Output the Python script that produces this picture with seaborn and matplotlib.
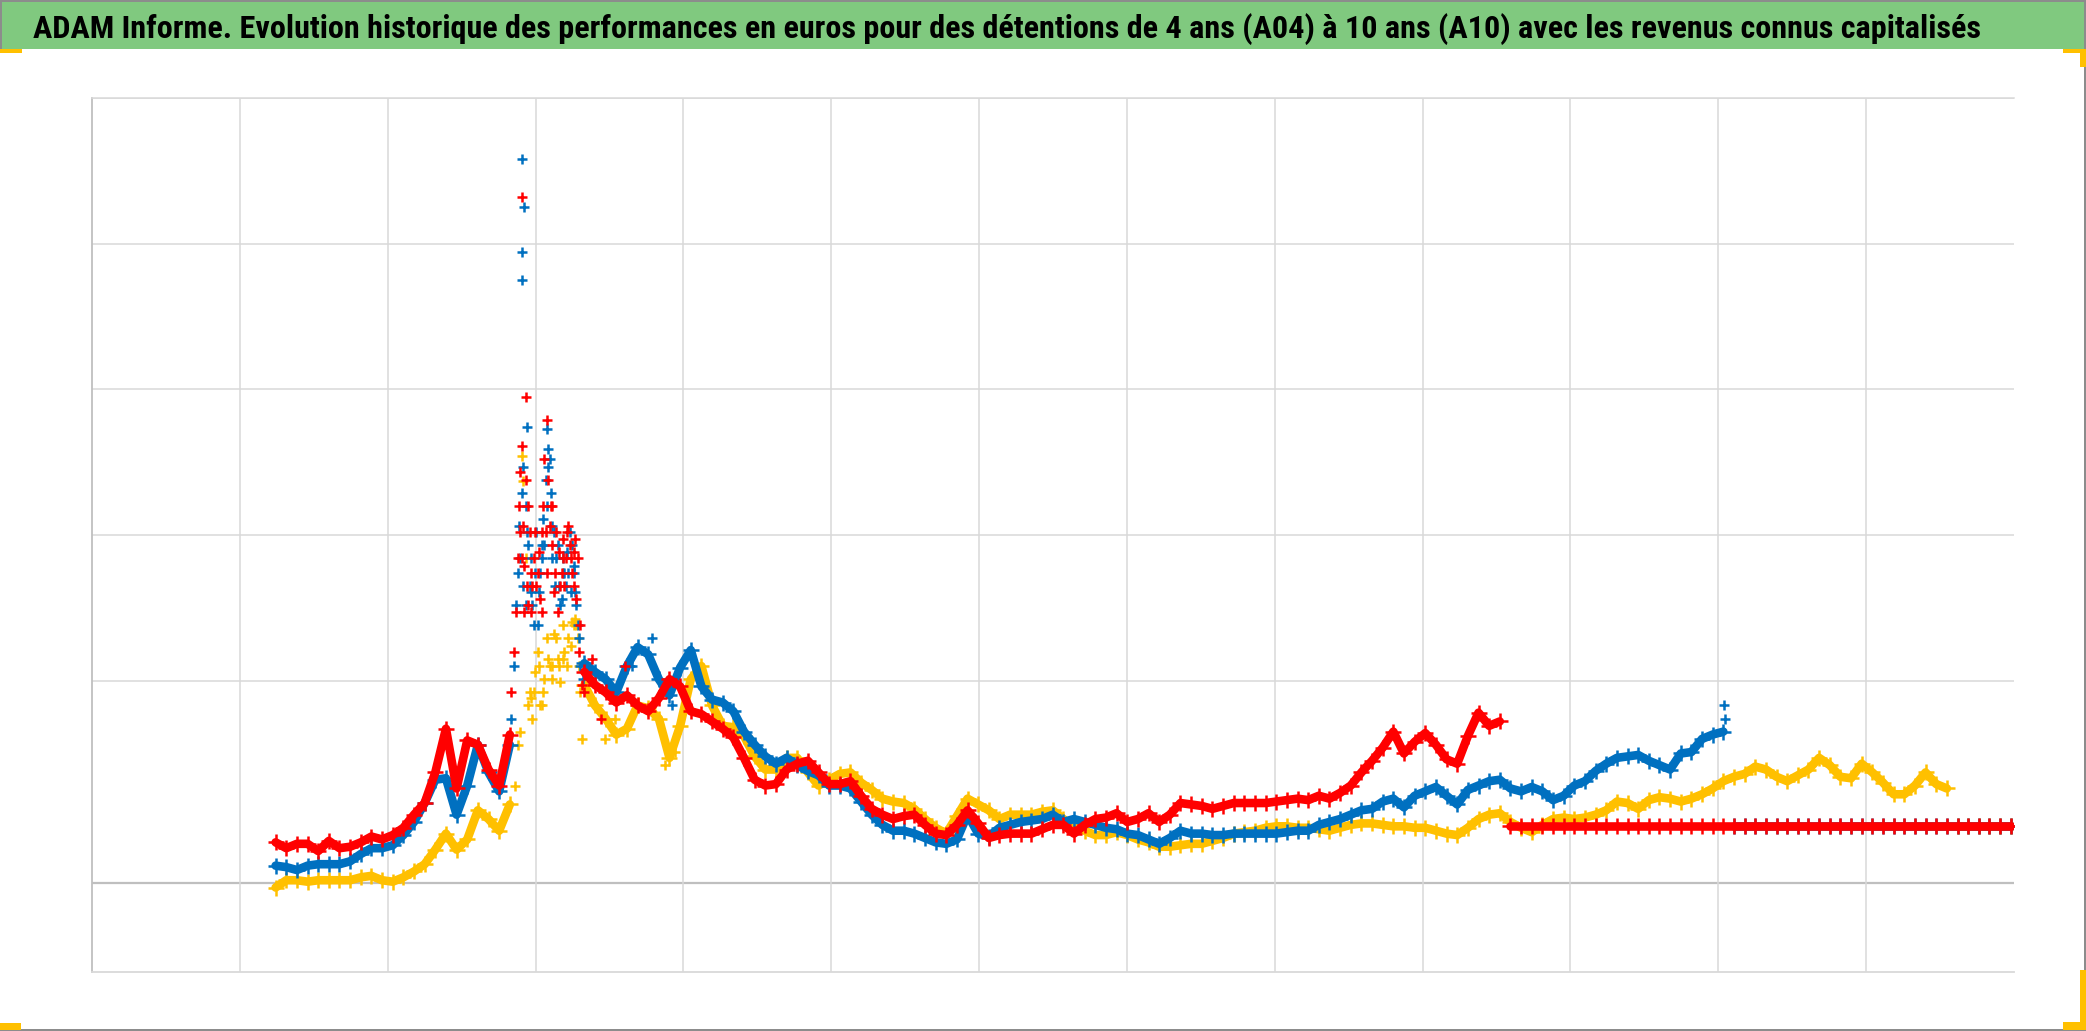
import numpy as np
import pandas as pd
import matplotlib
matplotlib.use("Agg")
import matplotlib.pyplot as plt
import seaborn as sns
from matplotlib import font_manager
from matplotlib.patches import Rectangle

TITLE = ("ADAM Informe. Evolution historique des performances en euros pour des "
         "détentions de 4 ans (A04) à 10 ans (A10) avec les revenus connus capitalisés")

# ---- data (x in grid periods, y in %) ----
X_START = 1.242
X_STEP = 0.072
N_PERIODS = 164
BUBBLE = (23, 29)   # periods of the 2000 bubble, shown as scattered points

a10_red = [-11, -15, -12, -12, -17, -10, -15, -14, -11, -7,
           -9, -6, -1, 8, 16, 37, 67, 26, 59, 56,
           39, 28, 63, 202, 174, 202, 220, 184, 188, 106,
           97, 92, 85, 90, 83, 79, 88, 101, 96, 79,
           77, 72, 67, 61, 47, 32, 28, 29, 39, 43,
           45, 37, 29, 29, 31, 21, 12, 8, 5, 7,
           8, 1, -5, -6, 1, 11, 2, -8, -6, -5,
           -5, -5, -2, 1, 1, -5, 1, 5, 6, 9,
           3, 5, 9, 3, 8, 16, 15, 14, 12, 14,
           16, 16, 16, 16, 17, 18, 19, 18, 21, 19,
           23, 28, 37, 45, 54, 65, 50, 58, 64, 56,
           46, 43, 62, 78, 69, 72]

a07_blue = [-27, -28, -30, -27, -26, -26, -26, -24, -19, -15,
            -15, -13, -6, 3, 16, 32, 33, 8, 28, 56,
            37, 24, 56, 184, 161, 193, 206, 174, 179, 112,
            106, 101, 92, 110, 123, 118, 101, 90, 109, 121,
            96, 87, 85, 79, 65, 56, 48, 43, 47, 42,
            38, 35, 28, 28, 26, 17, 8, 1, -3, -3,
            -5, -8, -11, -12, -9, 8, -5, -7, -1, 1,
            3, 4, 5, 8, 3, 5, 3, 1, -1, -2,
            -5, -6, -9, -12, -8, -3, -5, -5, -6, -6,
            -5, -5, -5, -5, -5, -4, -3, -3, 1, 3,
            5, 8, 11, 12, 17, 19, 13, 21, 24, 27,
            21, 15, 25, 28, 31, 32, 26, 24, 27, 24,
            18, 21, 28, 31, 38, 43, 47, 48, 49, 45,
            42, 39, 50, 51, 60, 63, 65]

a04_yellow = [-42, -37, -37, -38, -37, -37, -37, -37, -35, -34,
              -37, -38, -35, -31, -26, -16, -5, -16, -9, 11,
              5, -3, 15, 65, 88, 83, 110, 115, 138, 97,
              83, 74, 63, 67, 83, 81, 74, 47, 69, 101,
              110, 83, 69, 68, 62, 48, 39, 39, 47, 47,
              37, 28, 32, 36, 37, 30, 25, 19, 17, 16,
              12, 5, -1, -5, 7, 19, 15, 11, 5, 8,
              8, 8, 10, 11, 5, 0, -3, -6, -6, -4,
              -6, -9, -11, -14, -14, -13, -12, -12, -10, -8,
              -5, -4, -3, -1, 0, 0, -1, -1, -2, -3,
              -1, 1, 2, 2, 1, 0, 0, -1, -1, -3,
              -5, -6, -1, 5, 8, 9, 3, -1, -4, 1,
              5, 6, 5, 6, 8, 11, 17, 16, 12, 18,
              20, 19, 17, 19, 22, 26, 31, 34, 36, 41,
              39, 34, 31, 35, 39, 47, 42, 34, 33, 43,
              37, 30, 22, 22, 28, 37, 29, 26]

# scattered daily points around the 2000 bubble (x, y)
red_cloud_x = [2.906, 2.933, 2.906, 3.077, 2.852, 2.870, 2.879, 2.888, 2.897, 2.915,
               2.924, 2.942, 2.960, 2.969, 2.987, 3.005, 3.023, 3.032, 3.050, 3.059,
               3.086, 3.095, 3.113, 3.131, 3.149, 3.167, 3.185, 3.203, 3.221, 3.230,
               3.248, 3.266, 3.275, 3.293, 3.311, 3.329, 2.834,
               2.933, 2.951, 2.978, 2.996, 3.014, 3.041, 3.068, 3.077, 3.104, 3.122,
               3.140, 3.158, 3.176, 3.194, 3.212, 3.239, 3.257, 3.284, 3.302, 2.906,
               2.924, 2.951, 3.383, 3.446, 3.608]
red_cloud_y = [432, 295, 261, 279, 120, 147, 184, 220, 243, 206,
               179, 165, 202, 147, 184, 165, 188, 156, 220, 252,
               238, 206, 193, 174, 147, 165, 197, 184, 206, 193,
               174, 197, 156, 120, 97, 92, 92,
               238, 220, 165, 202, 174, 147, 202, 174, 220, 161,
               202, 188, 174, 165, 202, 184, 165, 184, 138, 184,
               147, 152, 115, 74, 110]

blue_cloud_x = [2.906, 2.924, 2.906, 2.906, 2.942, 3.086, 3.077, 2.870, 2.879, 2.888,
                2.906, 2.915, 2.933, 2.951, 2.960, 2.978, 2.996, 3.014, 3.023, 3.041,
                3.050, 3.068, 3.095, 3.104, 3.122, 3.140, 3.158, 3.176, 3.194, 3.212,
                3.230, 3.239, 3.257, 3.275, 3.284, 3.302, 3.320, 2.852, 2.834, 2.816,
                11.039, 11.048,
                2.942, 2.969, 2.987, 3.005, 3.032, 3.059, 3.077, 3.086, 3.113, 3.131,
                3.149, 3.167, 3.185, 3.203, 3.221, 3.248, 3.266, 3.293, 2.915, 2.933,
                3.653, 3.788, 3.923]
blue_cloud_y = [458, 425, 394, 375, 274, 259, 273, 152, 174, 206,
                229, 247, 220, 193, 165, 152, 174, 138, 161, 184,
                211, 238, 252, 229, 202, 184, 165, 156, 174, 188,
                202, 161, 174, 152, 138, 110, 101, 110, 74, 56,
                83, 74,
                202, 184, 138, 202, 174, 193, 220, 247, 184, 165,
                193, 152, 184, 165, 174, 193, 161, 129, 165, 152,
                110, 129, 83]

yellow_cloud_x = [2.906, 2.915, 2.933, 2.960, 2.978, 2.996, 3.014, 3.032, 3.059, 3.077,
                  3.095, 3.122, 3.149, 3.167, 3.194, 3.221, 3.248, 3.266, 3.284, 3.302,
                  3.311, 2.879, 2.861,
                  2.951, 2.987, 3.023, 3.050, 3.086, 3.113, 3.140, 3.158, 3.185, 3.212,
                  3.239, 3.275, 3.293, 3.878, 3.941, 3.473, 3.536]
yellow_cloud_y = [254, 237, 184, 92, 74, 106, 120, 83, 101, 129,
                  110, 132, 115, 99, 120, 129, 140, 142, 129, 92,
                  60, 56, 28,
                  83, 92, 110, 92, 115, 101, 129, 110, 138, 110,
                  124, 138, 110, 42, 51, 60, 74]

COLORS = {"A10": "#FF0000", "A07": "#0070C0", "A04": "#FFC000"}

W, H = 2086, 1031
sns.set_style("white")
fig = plt.figure(figsize=(W / 100, H / 100), dpi=100)
fig.patch.set_facecolor("white")

# axes placement
L, R, T, B = 92, 2014, 98, 972
ax = fig.add_axes([L / W, 1 - B / H, (R - L) / W, (B - T) / H])
ax.set_xlim(0, 13)
ax.set_ylim(-100, 500)
ax.set_xticks(range(1, 13))
ax.set_yticks([100, 200, 300, 400, 500])
ax.set_xticklabels([])
ax.set_yticklabels([])
ax.tick_params(length=0)
ax.grid(True, color="#D9D9D9", lw=1.1)
ax.set_axisbelow(True)
ax.spines["right"].set_visible(False)
ax.spines["top"].set_color("#D9D9D9"); ax.spines["top"].set_linewidth(1.1)
ax.spines["bottom"].set_color("#D9D9D9"); ax.spines["bottom"].set_linewidth(1.3)
ax.spines["left"].set_color("#BFBFBF"); ax.spines["left"].set_linewidth(1.3)
ax.axhline(-39, color="#BFBFBF", lw=1.6, zorder=0.5)

MS, MEW, LW = 12, 1.8, 6.2
MS_CLOUD = 7.5

def line_seg(xs, ys, color, z):
    df = pd.DataFrame({"x": xs, "y": ys})
    sns.lineplot(data=df, x="x", y="y", color=color, lw=LW, marker="+",
                 markersize=MS, markeredgewidth=MEW, markeredgecolor=color,
                 estimator=None, sort=False, ax=ax, zorder=z)

def draw_cloud(xs, ys, color):
    sns.scatterplot(x=xs, y=ys, color=color, marker="+", s=MS_CLOUD ** 2,
                    linewidth=MEW, ax=ax, zorder=3)

def draw(values, color):
    vals = np.asarray(values, dtype=float)
    xs = X_START + X_STEP * np.arange(len(vals))
    a, b = BUBBLE
    line_seg(xs[:a], vals[:a], color, 3)
    line_seg(xs[b:], vals[b:], color, 3)
    draw_cloud(xs[a:b], vals[a:b], color)

def draw_tail(n_used, color):
    xs = X_START + X_STEP * np.arange(n_used, N_PERIODS)
    line_seg(xs, np.zeros(len(xs)), color, 4)

draw(a04_yellow, COLORS["A04"])
draw_cloud(yellow_cloud_x, yellow_cloud_y, COLORS["A04"])
draw(a07_blue, COLORS["A07"])
draw_cloud(blue_cloud_x, blue_cloud_y, COLORS["A07"])
draw(a10_red, COLORS["A10"])
draw_cloud(red_cloud_x, red_cloud_y, COLORS["A10"])
draw_tail(len(a04_yellow), COLORS["A04"])
draw_tail(len(a07_blue), COLORS["A07"])
draw_tail(len(a10_red), COLORS["A10"])
ax.set_xlabel(""); ax.set_ylabel("")
if ax.get_legend():
    ax.get_legend().remove()

# ---- frame decorations ----
def frect(x0, y0, x1, y1, color, z=0):
    fig.patches.append(Rectangle((x0 / W, 1 - y1 / H), (x1 - x0) / W, (y1 - y0) / H,
                                 transform=fig.transFigure, facecolor=color,
                                 edgecolor="none", zorder=z))

frect(0, 0, W, 49, "#80C97F")
frect(0, 0, W, 2, "#8C8C8C", 2)
frect(W - 2, 0, W, H, "#8C8C8C", 2)
frect(0, H - 2, W, H, "#8C8C8C", 2)
frect(0, 0, 2, 49, "#8C8C8C", 2)
ORANGE = "#FFC000"
frect(0, 49, 22, 53, ORANGE, 3)
frect(2063, 49, W, 53, ORANGE, 3)
frect(2080, 49, W, 67, ORANGE, 3)
frect(0, 1023, 21, 1030, ORANGE, 3)
frect(2063, 1022, W, 1030, ORANGE, 3)
frect(2080, 970, W, 1030, ORANGE, 3)

# ---- title ----
fam = None
for cand in ["Liberation Sans Narrow", "Roboto Condensed", "Open Sans Condensed", "Liberation Sans"]:
    try:
        font_manager.findfont(font_manager.FontProperties(family=cand, weight="bold"),
                              fallback_to_default=False)
        fam = cand
        break
    except Exception:
        continue
if fam is None:
    fam = "DejaVu Sans"
t = fig.text(33 / W, 1 - 38 / H, TITLE, ha="left", va="baseline",
             fontweight="bold", family=[fam, "DejaVu Sans"], fontsize=22, color="black")
fig.canvas.draw()
wpx = t.get_window_extent().width
t.set_fontsize(22 * 1953 / wpx)

fig.savefig("out.png", dpi=100, facecolor="white")
